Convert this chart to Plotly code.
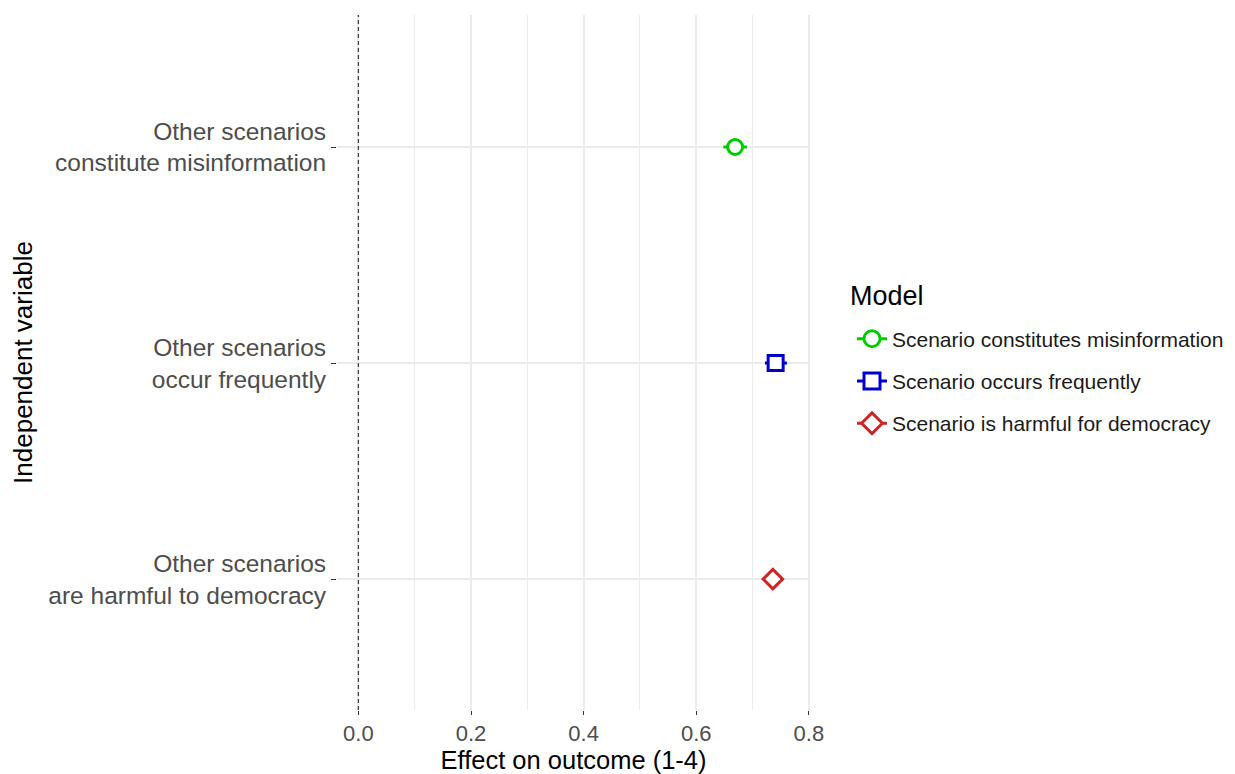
import plotly.graph_objects as go

categories = [
    "Other scenarios<br>are harmful to democracy",
    "Other scenarios<br>occur frequently",
    "Other scenarios<br>constitute misinformation",
]
models = [
    "Scenario constitutes misinformation",
    "Scenario occurs frequently",
    "Scenario is harmful for democracy",
]
model_category = [categories[2], categories[1], categories[0]]
estimates = [0.669, 0.741, 0.736]
ci_low = [0.648, 0.722, 0.722]
ci_high = [0.690, 0.761, 0.750]
colors = ["#00CD00", "#0000CD", "#CD2626"]
symbols = ["circle", "square", "diamond"]
x_ticks = [0.0, 0.2, 0.4, 0.6, 0.8]
x_tick_labels = ["0.0", "0.2", "0.4", "0.6", "0.8"]

FONT = "Liberation Sans, Arial, sans-serif"

fig = go.Figure()
for i, m in enumerate(models):
    fig.add_trace(go.Scatter(
        x=[estimates[i]], y=[model_category[i]], mode="markers",
        marker=dict(symbol=symbols[i], size=15, color="white",
                    line=dict(color=colors[i], width=3)),
        error_x=dict(type="data", symmetric=False,
                     array=[ci_high[i] - estimates[i]],
                     arrayminus=[estimates[i] - ci_low[i]],
                     color=colors[i], thickness=3, width=0),
        showlegend=False, name=m,
    ))
for i, m in enumerate(models):
    fig.add_trace(go.Scatter(
        x=[None], y=[None], mode="lines+markers", name=m,
        legendgroup=m,
        line=dict(color=colors[i], width=3),
        marker=dict(symbol=symbols[i], size=16, color="white",
                    line=dict(color=colors[i], width=3)),
    ))

fig.add_shape(type="line", x0=0, x1=0, xref="x", y0=0, y1=1, yref="paper",
              line=dict(color="#444444", width=1.3, dash="4px,3px"))

fig.add_annotation(text="Model", xref="paper", yref="paper",
                   x=(848 - 337) / 473, y=(710 - 296) / 695,
                   xanchor="left", yanchor="middle", showarrow=False,
                   font=dict(size=27, color="black"))

fig.update_layout(
    width=1235, height=774,
    margin=dict(l=337, r=425, t=15, b=64, autoexpand=False),
    paper_bgcolor="white", plot_bgcolor="white",
    font=dict(family=FONT, color="black"),
    legend=dict(
        font=dict(size=21, color="#1a1a1a"),
        x=(852 - 337) / 473, xanchor="left", y=(710 - 381) / 695, yanchor="middle",
        tracegroupgap=12, bgcolor="rgba(0,0,0,0)",
    ),
    xaxis=dict(
        range=[-0.038, 0.802],
        tickvals=x_ticks, ticktext=x_tick_labels,
        tickfont=dict(size=22, color="#4D4D4D"),
        ticks="outside", ticklen=4, tickwidth=1.3, tickcolor="#333333",
        showgrid=True, gridcolor="#EBEBEB", gridwidth=1.8,
        minor=dict(dtick=0.1, tick0=0.1, showgrid=True, gridcolor="#EBEBEB", gridwidth=1),
        zeroline=False, showline=False, automargin=False,
        title=dict(text="Effect on outcome (1-4)", font=dict(size=25.5, color="black"), standoff=9),
    ),
    yaxis=dict(
        type="category", categoryorder="array", categoryarray=categories,
        range=[-0.606, 2.611],
        tickfont=dict(size=24.5, color="#4D4D4D"),
        ticks="outside", ticklen=5, tickwidth=1.3, tickcolor="#333333",
        showgrid=True, gridcolor="#EBEBEB", gridwidth=1.8,
        zeroline=False, showline=False, automargin=False,
        title=dict(text="Independent variable", font=dict(size=26, color="black"), standoff=8),
    ),
)

fig.write_html("out.html")
